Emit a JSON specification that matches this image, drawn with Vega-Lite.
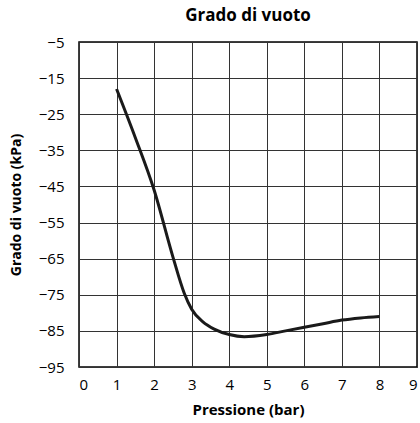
{
  "$schema": "https://vega.github.io/schema/vega-lite/v6.json",
  "autosize": "none",
  "width": 338,
  "height": 325,
  "padding": {"left": 79, "top": 42, "right": 3, "bottom": 56},
  "background": "white",
  "title": {"text": "Grado di vuoto", "font": "Open Sans", "fontSize": 17, "fontWeight": "bold", "color": "#000", "anchor": "middle", "offset": 10},
  "config": {"view": {"stroke": "#000", "strokeWidth": 1.5}},
  "data": {"values": [
    {"p": 1, "v": -18},
    {"p": 1.5, "v": -31.5},
    {"p": 2, "v": -46},
    {"p": 2.5, "v": -64.5},
    {"p": 2.8, "v": -74.5},
    {"p": 3, "v": -79},
    {"p": 3.3, "v": -82.5},
    {"p": 3.6, "v": -84.5},
    {"p": 4, "v": -86},
    {"p": 4.4, "v": -86.6},
    {"p": 5, "v": -86},
    {"p": 5.5, "v": -85},
    {"p": 6, "v": -84},
    {"p": 6.5, "v": -83},
    {"p": 7, "v": -82},
    {"p": 7.5, "v": -81.4},
    {"p": 8, "v": -81}
  ]},
  "mark": {"type": "line", "interpolate": "monotone", "color": "#1a1a1a", "strokeWidth": 3},
  "encoding": {
    "x": {"field": "p", "type": "quantitative", "title": "Pressione (bar)",
      "scale": {"domain": [0, 9], "nice": false},
      "axis": {"values": [0,1,2,3,4,5,6,7,8,9], "grid": true, "gridColor": "#333", "gridOpacity": 1, "gridWidth": 1, "ticks": false, "domain": false,
        "labelFont": "Open Sans", "labelFontSize": 15, "labelColor": "#000", "labelPadding": 10,
        "titleFont": "Open Sans", "titleFontSize": 15, "titleFontWeight": "bold", "titleColor": "#000", "titlePadding": 10}},
    "y": {"field": "v", "type": "quantitative", "title": "Grado di vuoto (kPa)",
      "scale": {"domain": [-95, -5], "nice": false, "zero": false},
      "axis": {"values": [-95,-85,-75,-65,-55,-45,-35,-25,-15,-5], "grid": true, "gridColor": "#333", "gridOpacity": 1, "gridWidth": 1, "ticks": false, "domain": false,
        "labelFont": "Open Sans", "labelFontSize": 15, "labelColor": "#000", "labelPadding": 15,
        "titleFont": "Open Sans", "titleFontSize": 14, "titleFontWeight": "bold", "titleColor": "#000", "titlePadding": 15}}
  }
}
